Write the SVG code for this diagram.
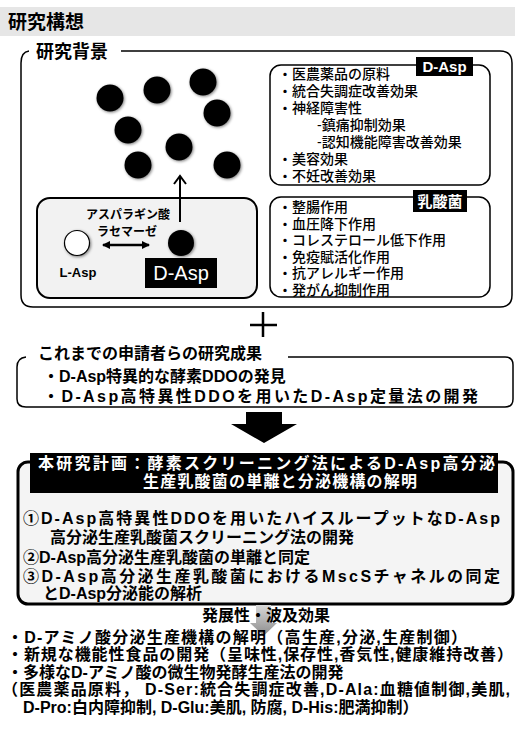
<svg xmlns="http://www.w3.org/2000/svg" width="515" height="732" viewBox="0 0 515 732">
<style>
text{font-family:"Liberation Sans","Noto Sans CJK JP",sans-serif;fill:#000}
.b{font-weight:bold}
.li{font-size:14px;font-weight:500}
.h16{font-size:16px;font-weight:bold}
.h17{font-size:16px;font-weight:bold}
.w{fill:#fff}
.frame{fill:none;stroke:#000;stroke-width:1.5}
.dot{fill:#000;filter:url(#sh)}
</style>
<defs>
<filter id="sh" x="-50%" y="-50%" width="200%" height="200%">
<feGaussianBlur in="SourceAlpha" stdDeviation="1.5" result="b"/>
<feOffset dx="1" dy="1" result="o"/>
<feComponentTransfer in="o" result="s"><feFuncA type="linear" slope="0.5"/></feComponentTransfer>
<feMerge><feMergeNode in="s"/><feMergeNode in="SourceGraphic"/></feMerge>
</filter>
<linearGradient id="gg" x1="0" y1="0" x2="0" y2="1">
<stop offset="0" stop-color="#d8d8d8"/><stop offset="1" stop-color="#8c8c8c"/>
</linearGradient>
<marker id="ah" markerWidth="8" markerHeight="8" refX="7" refY="4" orient="auto-start-reverse" markerUnits="userSpaceOnUse">
<path d="M0,0 L8,4 L0,8 Z" fill="#000"/>
</marker>
</defs>

<g id="title">
<rect x="0" y="7" width="515" height="29" fill="#e6e6e6"/>
<text x="8" y="29" class="b" style="font-size:19px">研究構想</text>
</g>

<g id="background">
<path class="frame" d="M29,51 Q21,52 21,63 V295 Q21,307 33,307 H500 Q512,307 512,295 V63 Q512,51 500,51 H121"/>
<text x="36" y="58" class="b" style="font-size:18px">研究背景</text>
<g id="dots">
<circle class="dot" cx="110" cy="98" r="13.5"/>
<circle class="dot" cx="157" cy="90" r="13.5"/>
<circle class="dot" cx="203" cy="82" r="13.5"/>
<circle class="dot" cx="217" cy="113" r="13.5"/>
<circle class="dot" cx="128" cy="130" r="13.5"/>
<circle class="dot" cx="179" cy="147" r="13.5"/>
<circle class="dot" cx="138" cy="165" r="13.5"/>
<circle class="dot" cx="227" cy="165" r="13.5"/>
</g>
</g>

<g id="racemase-box">
<rect x="37" y="198" width="220" height="100" rx="13" fill="#f2f2f2" stroke="#000" stroke-width="2"/>
<text x="128" y="219" class="b" style="font-size:12px" text-anchor="middle">アスパラギン酸</text>
<text x="127" y="236" class="b" style="font-size:12px" text-anchor="middle">ラセマーゼ</text>
<circle cx="77" cy="243" r="12.5" fill="#fff" stroke="#000" stroke-width="1.2" filter="url(#sh)"/>
<circle class="dot" cx="181" cy="243" r="13"/>
<text x="78" y="277" class="b" style="font-size:13px" text-anchor="middle">L-Asp</text>
<rect x="145" y="258" width="72" height="30" fill="#000"/>
<text x="181" y="280" class="w" style="font-size:20px" text-anchor="middle">D-Asp</text>
</g>

<g id="dasp-box">
<rect x="270" y="65" width="220" height="120" rx="11" class="frame"/>
<rect x="416" y="57" width="57" height="19" fill="#000"/>
<text x="444.5" y="71.5" class="w b" style="font-size:15px" text-anchor="middle">D-Asp</text>
<text x="278" y="79" class="li">・医農薬品の原料</text>
<text x="278" y="96" class="li">・統合失調症改善効果</text>
<text x="278" y="113" class="li">・神経障害性</text>
<text x="317" y="130" class="li">-鎮痛抑制効果</text>
<text x="317" y="147" class="li">-認知機能障害改善効果</text>
<text x="278" y="164" class="li">・美容効果</text>
<text x="278" y="181" class="li">・不妊改善効果</text>
</g>

<g id="lab-box">
<rect x="270" y="197" width="220" height="100" rx="11" class="frame"/>
<rect x="413" y="190" width="54" height="22" fill="#000"/>
<text x="440" y="207" class="w b" style="font-size:15px" text-anchor="middle">乳酸菌</text>
<text x="278" y="212" class="li">・整腸作用</text>
<text x="278" y="228.5" class="li">・血圧降下作用</text>
<text x="278" y="245" class="li">・コレステロール低下作用</text>
<text x="278" y="261.5" class="li">・免疫賦活化作用</text>
<text x="278" y="278" class="li">・抗アレルギー作用</text>
<text x="278" y="294.5" class="li">・発がん抑制作用</text>
</g>

<g id="plus">
<path d="M263,312 V337 M250,325 H277" stroke="#000" stroke-width="2.5" fill="none"/>
</g>

<g id="results-box">
<path class="frame" d="M26,357 Q17,358 17,367 V399 Q17,407 26,407 H505 Q513,407 513,399 V365 Q513,357 505,357 H288"/>
<text x="38" y="359" class="h16">これまでの申請者らの研究成果</text>
<text x="43" y="382" class="h16">・D-Asp特異的な酵素DDOの発見</text>
<text x="43" y="402" class="h16" textLength="435" lengthAdjust="spacing">・D-Asp高特異性DDOを用いたD-Asp定量法の開発</text>
</g>

<g id="plan-box">
<rect x="18" y="462" width="495" height="142" rx="10" fill="#f4f4f4" stroke="#000" stroke-width="3"/>
<rect x="30" y="453" width="468" height="40" fill="#000"/>
<text x="38" y="469" class="h17 w" textLength="457" lengthAdjust="spacing">本研究計画：酵素スクリーニング法によるD-Asp高分泌</text>
<text x="280" y="487" class="h17 w" text-anchor="middle" textLength="274" lengthAdjust="spacing">生産乳酸菌の単離と分泌機構の解明</text>
<text x="23" y="524" class="h17" textLength="477" lengthAdjust="spacing">①D-Asp高特異性DDOを用いたハイスループットなD-Asp</text>
<text x="50" y="543" class="h17">高分泌生産乳酸菌スクリーニング法の開発</text>
<text x="23" y="563" class="h17">②D-Asp高分泌生産乳酸菌の単離と同定</text>
<text x="23" y="582" class="h17" textLength="477" lengthAdjust="spacing">③D-Asp高分泌生産乳酸菌におけるMscSチャネルの同定</text>
<text x="43" y="599" class="h17">とD-Asp分泌能の解析</text>
</g>

<g id="connectors">
<path d="M180,222 V177" stroke="#000" stroke-width="2" fill="none"/>
<path d="M174,184 L180,176 L186,184" stroke="#000" stroke-width="2" fill="none"/>
<path d="M103,245 H149" stroke="#000" stroke-width="2.5" fill="none" marker-start="url(#ah)" marker-end="url(#ah)"/>
<path d="M246,412 H282 V424 H297 L264,443 L231,424 H246 Z" fill="#000"/>
<path d="M256,605 H271 V623 H277 L263.5,636 L250,623 H256 Z" fill="url(#gg)"/>
</g>

<g id="outcomes">
<text x="266" y="621" class="b" style="font-size:16px" text-anchor="middle">発展性・波及効果</text>
<text x="7" y="643" class="h17" textLength="460" lengthAdjust="spacing">・D-アミノ酸分泌生産機構の解明（高生産,分泌,生産制御）</text>
<text x="7" y="660" class="h17" textLength="506" lengthAdjust="spacing">・新規な機能性食品の開発（呈味性,保存性,香気性,健康維持改善）</text>
<text x="7" y="678" class="h17">・多様なD-アミノ酸の微生物発酵生産法の開発</text>
<text x="2" y="695" class="h17" textLength="508" lengthAdjust="spacing">（医農薬品原料， D-Ser:統合失調症改善,D-Ala:血糖値制御,美肌,</text>
<text x="23" y="713" class="h17">D-Pro:白内障抑制, D-Glu:美肌, 防腐, D-His:肥満抑制）</text>
</g>
</svg>
